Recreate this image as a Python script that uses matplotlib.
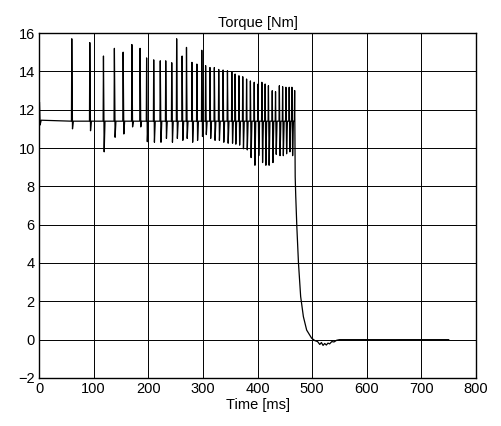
import matplotlib
matplotlib.use("Agg")
from matplotlib import pyplot as plt

plt.rcParams['font.family'] = ['Liberation Sans', 'DejaVu Sans']

# start-up transient (t in ms, torque in Nm)
start_t = [0, 0.8, 2, 4]
start_v = [4.0, 12.4, 11.2, 11.45]

baseline = 11.4

# torque spikes: time, peak, trough
spike_t = [60, 93, 118, 138, 154, 170, 185, 197, 210, 222, 232, 243, 252, 262,
           270, 280, 289, 298, 305, 313, 321, 329, 337, 345, 353, 359, 366, 373,
           380, 387, 394, 401, 408, 414, 420, 427, 433, 440, 446, 452, 458, 463]
spike_peak = [15.7, 15.5, 14.8, 15.2, 15.0, 15.4, 15.2, 14.7, 14.6, 14.55, 14.55,
              14.45, 15.7, 14.8, 15.25, 14.47, 14.38, 15.1, 14.3, 14.2, 14.2, 14.1,
              14.07, 14.03, 13.98, 13.86, 13.77, 13.72, 13.6, 13.5, 13.43, 13.34,
              13.43, 13.34, 13.25, 12.99, 12.94, 13.25, 13.2, 13.17, 13.17, 13.17]
spike_trough = [11.0, 10.9, 9.8, 10.56, 10.73, 11.1, 11.1, 10.33, 10.3, 10.3, 10.5,
                10.3, 10.5, 10.4, 10.5, 10.3, 10.4, 10.6, 10.7, 10.5, 10.4, 10.4,
                10.3, 10.25, 10.25, 10.2, 10.15, 9.96, 9.9, 9.5, 9.1, 9.6, 9.24,
                9.1, 9.1, 9.24, 9.67, 9.6, 9.6, 9.7, 9.8, 9.6]

# switch-off and decay
decay_t = [468, 468.6, 469, 470, 472, 475, 479, 484, 490, 499, 505, 510, 514, 517,
           520, 523, 526, 529, 532, 536, 540, 545, 550, 750]
decay_v = [13.0, 9.9, 8.5, 7.5, 5.9, 4.0, 2.25, 1.2, 0.5, 0.08, -0.05, -0.1, -0.25,
           -0.15, -0.3, -0.2, -0.28, -0.18, -0.22, -0.1, -0.12, -0.03, 0.0, 0.0]


def build_curve():
    t = list(start_t)
    v = list(start_v)
    for st, pk, tr in zip(spike_t, spike_peak, spike_trough):
        t += [st - 0.6, st, st + 1.3, st + 2.8]
        v += [baseline, pk, tr, baseline]
    t += [467.4] + decay_t
    v += [baseline] + decay_v
    return t, v


time_ms, torque = build_curve()

fig = plt.figure(figsize=(5.02, 4.26), dpi=100)
ax = fig.add_axes([0.0777, 0.1127, 0.8705, 0.8098])

ax.plot(time_ms, torque, color='black', linewidth=0.9)

ax.set_xlim(0, 800)
ax.set_ylim(-2, 16)
ax.set_xticks(range(0, 801, 100))
ax.set_yticks(range(-2, 17, 2))
ax.grid(True, color='black', linewidth=0.7)
ax.tick_params(direction='in', labelsize=10.5, length=0, pad=3)
for sp in ax.spines.values():
    sp.set_linewidth(1.0)

ax.set_title('Torque [Nm]', fontsize=10.5, pad=4)
ax.set_xlabel('Time [ms]', fontsize=10.5, labelpad=1)

fig.savefig('out.png', dpi=100)
